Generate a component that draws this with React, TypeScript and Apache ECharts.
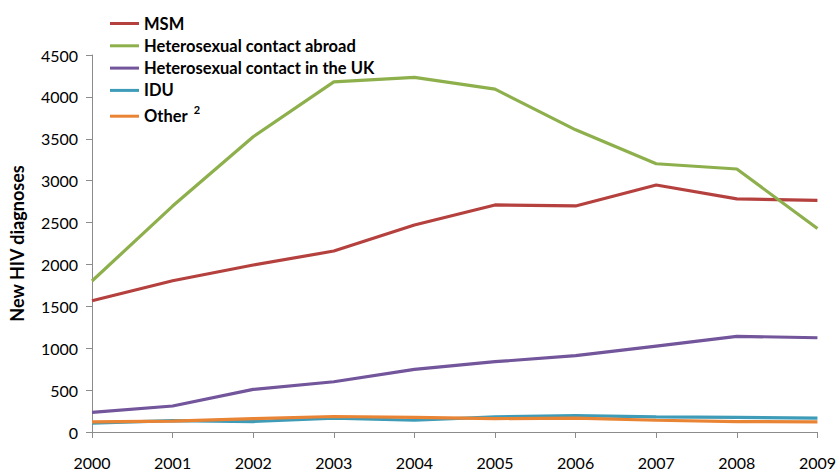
import React, { useEffect, useRef } from "react";
import * as echarts from "echarts";

const years = ["2000", "2001", "2002", "2003", "2004", "2005", "2006", "2007", "2008", "2009"];
const msm = [1567, 1805, 1993, 2160, 2470, 2710, 2698, 2948, 2782, 2765];
const hetAbroad = [1802, 2697, 3524, 4180, 4232, 4092, 3607, 3202, 3139, 2428];
const hetUK = [235, 310, 509, 600, 748, 839, 911, 1026, 1142, 1125];
const idu = [105, 135, 125, 165, 140, 180, 195, 180, 175, 165];
const other = [120, 130, 160, 185, 175, 160, 165, 140, 125, 120];

const seriesNames = [
  "MSM",
  "Heterosexual contact abroad",
  "Heterosexual contact in the UK",
  "IDU",
  "Other",
];
const seriesData = [msm, hetAbroad, hetUK, idu, other];
const colors = ["#B5413F", "#8DB04C", "#72559A", "#3E9CB8", "#EA8435"];

const FONT = "Lato, 'Noto Sans', sans-serif";

export default function App() {
  const ref = useRef<HTMLDivElement>(null);
  useEffect(() => {
    if (!ref.current) return;
    const chart = echarts.init(ref.current, null, { renderer: "svg" });
    chart.setOption({
      animation: false,
      color: colors,
      grid: { left: 91, right: 21, top: 55, bottom: 41, containLabel: false },
      legend: {
        orient: "vertical",
        left: 105,
        top: 10,
        itemWidth: 29,
        itemHeight: 3,
        itemGap: 5.3,
        icon: "rect",
        data: seriesNames,
        formatter: (name: string) =>
          name === "Other" ? "{a|Other }{s|2}" : "{a|" + name + "}",
        textStyle: {
          fontFamily: FONT,
          fontSize: 16.5,
          fontWeight: "bold",
          color: "#000",
          rich: {
            a: { fontFamily: FONT, fontSize: 16.5, fontWeight: "bold", color: "#000", lineHeight: 18 },
            s: { fontFamily: FONT, fontSize: 11, fontWeight: "bold", color: "#000", lineHeight: 18, padding: [0, 0, 13, 2] },
          },
        },
      },
      xAxis: {
        type: "category",
        data: years,
        boundaryGap: false,
        axisLine: { lineStyle: { color: "#8C8C8C", width: 1 } },
        axisTick: { show: true, length: 6, inside: false, lineStyle: { color: "#8C8C8C" }, alignWithLabel: true },
        axisLabel: { margin: 22, fontFamily: FONT, fontSize: 16, color: "#000" },
        splitLine: { show: false },
      },
      yAxis: {
        type: "value",
        min: 0,
        max: 4500,
        interval: 500,
        name: "New HIV diagnoses",
        nameLocation: "middle",
        nameGap: 66,
        nameRotate: 90,
        nameTextStyle: { fontFamily: FONT, fontSize: 18, fontWeight: "bold", color: "#000" },
        axisLine: { show: true, lineStyle: { color: "#8C8C8C", width: 1 } },
        axisTick: { show: true, length: 6, lineStyle: { color: "#8C8C8C" } },
        axisLabel: { margin: 14, fontFamily: FONT, fontSize: 16, color: "#000", formatter: (v: number) => String(v) },
        splitLine: { show: false },
      },
      series: seriesNames.map((n, i) => ({
        name: n,
        type: "line",
        data: seriesData[i],
        symbol: "none",
        lineStyle: { width: 3.2, color: colors[i] },
        itemStyle: { color: colors[i] },
      })),
    });
    return () => chart.dispose();
  }, []);
  return <div ref={ref} style={{ width: 839, height: 473, position: "absolute", left: 0, top: 0 }} />;
}
